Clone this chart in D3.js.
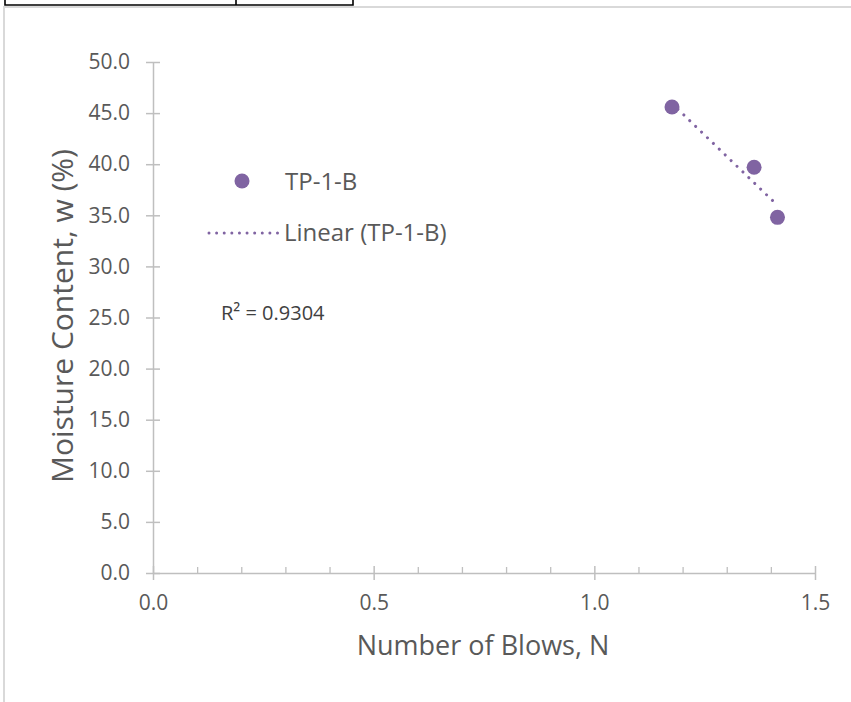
<!DOCTYPE html>
<html><head><meta charset="utf-8">
<script src="https://cdn.jsdelivr.net/npm/d3@7"></script>
<style>
html,body{margin:0;padding:0;background:#fff;}
svg{display:block;}
text{font-family:"Open Sans","Noto Sans",sans-serif;}
</style></head>
<body>
<svg id="c" width="851" height="702"></svg>
<script>
// ---- data ----
const seriesName = "TP-1-B";
const trendName = "Linear (TP-1-B)";
const blowsX = [1.176, 1.362, 1.415];      // x values (as plotted)
const moisture = [45.6, 39.7, 34.8];       // w (%)
const xTicks = [0, 0.5, 1.0, 1.5];
const xMinorTicks = [0.1,0.2,0.3,0.4,0.6,0.7,0.8,0.9,1.1,1.2,1.3,1.4];
const yTicks = [0,5,10,15,20,25,30,35,40,45,50];
const r2Label = "R² = 0.9304";
const xTitle = "Number of Blows, N";
const yTitle = "Moisture Content, w (%)";

const purple = "#8064A2";
const axisCol = "#BFBFBF";
const textCol = "#595959";

const svg = d3.select("#c");

// outer frame remnants
svg.append("line").attr("x1",4).attr("x2",851).attr("y1",7).attr("y2",7).attr("stroke","#d9d9d9").attr("stroke-width",2);
svg.append("line").attr("x1",4).attr("x2",4).attr("y1",6).attr("y2",702).attr("stroke","#d9d9d9").attr("stroke-width",2);
// black table fragment at top
svg.append("path").attr("d","M5,0 V5 H353 V0 M236,0 V5").attr("fill","none").attr("stroke","#000").attr("stroke-width",1.6);

const x = d3.scaleLinear().domain([0,1.5]).range([153,815]);
const y = d3.scaleLinear().domain([0,50]).range([573,62]);

// y axis
const gy = svg.append("g").attr("transform","translate(153,0)")
  .call(d3.axisLeft(y).tickValues(yTicks).tickFormat(d3.format(".1f")).tickSizeInner(7).tickSizeOuter(0).tickPadding(16));
gy.select(".domain").attr("stroke",axisCol).attr("stroke-width",1.5);
gy.selectAll(".tick line").attr("stroke",axisCol).attr("stroke-width",1.5).attr("x1",7).attr("x2",-7);
gy.selectAll(".tick text").attr("fill",textCol).style("font-size","21px").style("font-family","'Open Sans',sans-serif");

// x minor ticks (upward)
const gxm = svg.append("g").attr("transform","translate(0,573)")
  .call(d3.axisBottom(x).tickValues(xMinorTicks).tickSize(-6).tickFormat(""));
gxm.select(".domain").remove();
gxm.selectAll(".tick line").attr("stroke",axisCol).attr("stroke-width",1.3);

// x axis
const gx = svg.append("g").attr("transform","translate(0,573)")
  .call(d3.axisBottom(x).tickValues(xTicks).tickFormat(d3.format(".1f")).tickSizeInner(7).tickSizeOuter(0).tickPadding(15));
gx.select(".domain").attr("stroke",axisCol).attr("stroke-width",1.5);
gx.selectAll(".tick line").attr("stroke",axisCol).attr("stroke-width",1.5).attr("y1",-7).attr("y2",7);
gx.selectAll(".tick text").attr("fill",textCol).style("font-size","21px").style("font-family","'Open Sans',sans-serif");

// titles
svg.append("text").attr("x",483).attr("y",655).attr("text-anchor","middle")
  .attr("fill",textCol).style("font-size","27px").text(xTitle);
svg.append("text").attr("transform","translate(73,316) rotate(-90)").attr("text-anchor","middle")
  .attr("fill",textCol).style("font-size","30px").text(yTitle);

// linear trendline (least squares)
const n = blowsX.length;
const mx = d3.mean(blowsX), my = d3.mean(moisture);
let sxy=0, sxx=0;
for(let i=0;i<n;i++){ sxy += (blowsX[i]-mx)*(moisture[i]-my); sxx += (blowsX[i]-mx)**2; }
const slope = sxy/sxx, icpt = my - slope*mx;
const x0 = d3.min(blowsX), x1 = d3.max(blowsX);
svg.append("line")
  .attr("x1",x(x0)).attr("y1",y(icpt+slope*x0))
  .attr("x2",x(x1)).attr("y2",y(icpt+slope*x1))
  .attr("stroke",purple).attr("stroke-width",3).attr("stroke-linecap","round")
  .attr("stroke-dasharray","0.01 8.2");

// points
svg.selectAll("circle.pt").data(blowsX).enter().append("circle").attr("class","pt")
  .attr("cx",d=>x(d)).attr("cy",(d,i)=>y(moisture[i])).attr("r",7.5).attr("fill",purple);

// legend
svg.append("circle").attr("cx",242).attr("cy",181).attr("r",7.5).attr("fill",purple);
svg.append("text").attr("x",285).attr("y",190).attr("fill",textCol).style("font-size","24px").text(seriesName);
svg.append("line").attr("x1",209).attr("x2",278).attr("y1",233).attr("y2",233)
  .attr("stroke",purple).attr("stroke-width",3).attr("stroke-linecap","round").attr("stroke-dasharray","0.01 7.6");
svg.append("text").attr("x",284).attr("y",241).attr("fill",textCol).style("font-size","24px").text(trendName);

// R^2 label
svg.append("text").attr("x",221).attr("y",320).attr("fill","#404040").style("font-size","20px").text(r2Label);
</script>
</body></html>
